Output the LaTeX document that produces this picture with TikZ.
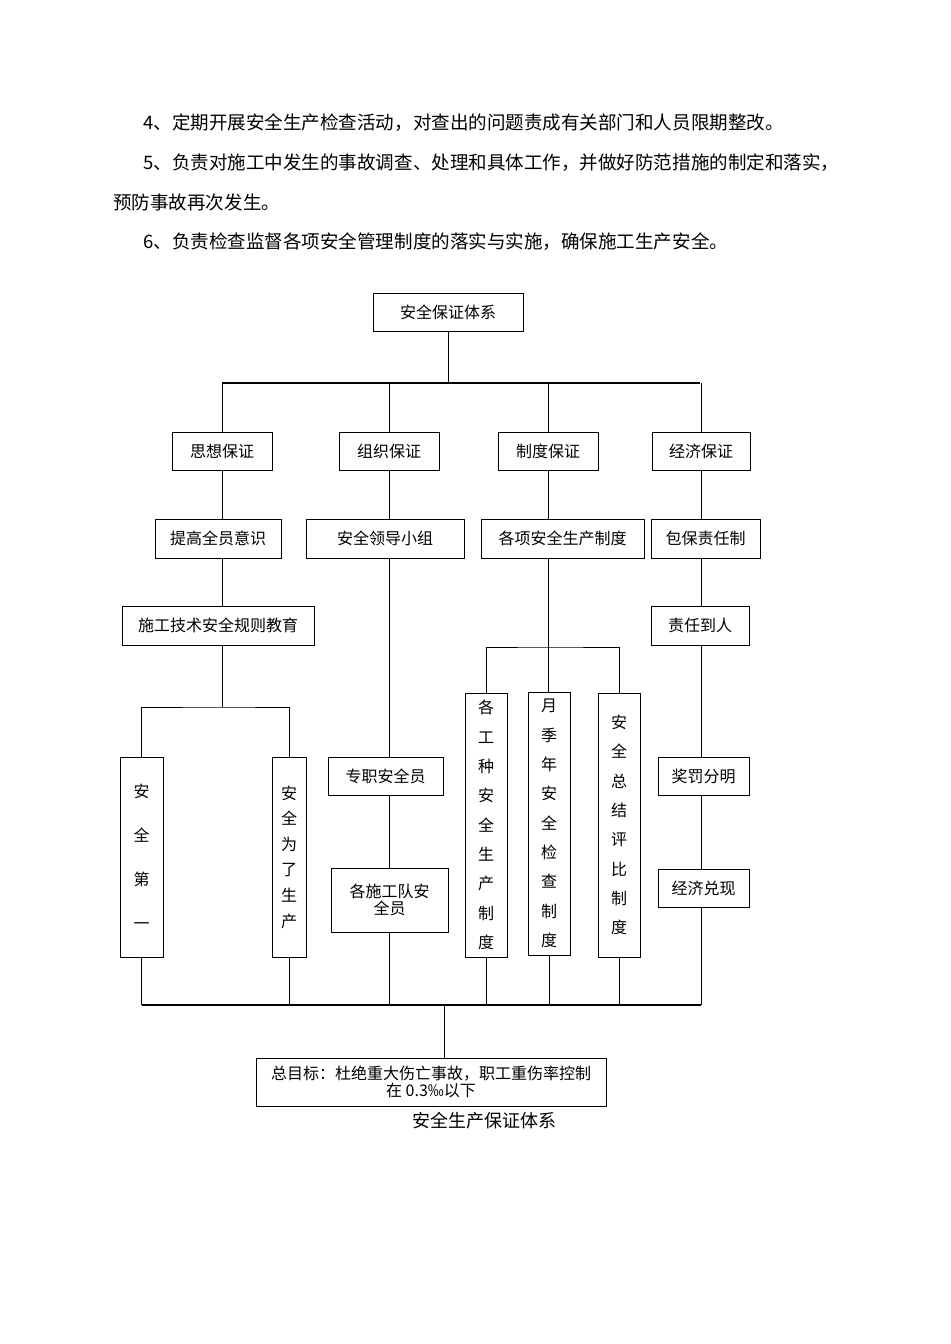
\documentclass[tikz,border=0pt]{standalone}
\usepackage{fontspec}
\setmainfont{Noto Sans CJK SC}
\usetikzlibrary{fit}
\tikzset{
  bx/.style={draw,line width=0.6pt,inner sep=0pt},
  ln/.style={line width=0.6pt},
  bar/.style={line width=1.3pt},
  para/.style={anchor=west,inner sep=0pt,font=\fontsize{13.9}{16}\selectfont},
  bt/.style={font=\fontsize{12}{13}\selectfont,align=center},
}
\newcommand\mybox[6]{\node[bx,fit={(#2,#3)(#4,#5)}] (#1) {}; \node[bt] (#1t) at (#1.center) {#6};}
\newcommand\vertbox[7]{\node[bx,fit={(#2,#3)(#4,#5)}] (#1) {}; \node[font=\fontsize{12}{#6}\selectfont,align=center] (#1t) at (#1.center) {#7};}
\begin{document}
\begin{tikzpicture}[x=0.75pt,y=-0.75pt]
\path[use as bounding box,fill=white] (0,0) rectangle (950,1344);
\node[para] (p4) at (143,123) {4、定期开展安全生产检查活动，对查出的问题责成有关部门和人员限期整改。};
\node[para] (p5) at (143,163) {5、负责对施工中发生的事故调查、处理和具体工作，并做好防范措施的制定和落实，};
\node[para] (p5b) at (113,202) {预防事故再次发生。};
\node[para] (p6) at (143,242) {6、负责检查监督各项安全管理制度的落实与实施，确保施工生产安全。};

\mybox{top}{373}{293}{523}{331}{安全保证体系}
\mybox{sx}{172}{432}{272}{470}{思想保证}
\mybox{zz}{339}{432}{439}{470}{组织保证}
\mybox{zd}{498}{432}{598}{470}{制度保证}
\mybox{jj}{652}{432}{750}{470}{经济保证}
\mybox{tg}{155}{519}{281}{558}{提高全员意识}
\mybox{ld}{306}{519}{464}{558}{安全领导小组}
\mybox{gx}{481}{519}{644}{558}{各项安全生产制度}
\mybox{bb}{651}{519}{760}{558}{包保责任制}
\mybox{sg}{122}{606}{314}{645}{施工技术安全规则教育}
\mybox{zr}{651}{606}{749}{645}{责任到人}
\vertbox{aq1}{120}{757}{163}{957}{33}{安\\全\\第\\一}
\vertbox{aq2}{272}{757}{306}{957}{19.2}{安\\全\\为\\了\\生\\产}
\mybox{zzy}{328}{757}{443}{795}{专职安全员}
\mybox{gsd}{331}{868}{448}{932}{各施工队安\\全员}
\vertbox{gz}{465}{693}{507}{957}{22}{各\\工\\种\\安\\全\\生\\产\\制\\度}
\vertbox{yj}{528}{692}{570}{955}{22}{月\\季\\年\\安\\全\\检\\查\\制\\度}
\vertbox{zj}{598}{693}{640}{957}{22}{安\\全\\总\\结\\评\\比\\制\\度}
\mybox{jf}{658}{757}{749}{795}{奖罚分明}
\mybox{dx}{658}{869}{749}{907}{经济兑现}
\mybox{goal}{256}{1058}{606}{1106}{总目标：杜绝重大伤亡事故，职工重伤率控制\\在 0.3‰以下}
\node[font=\fontsize{13.5}{15}\selectfont] (cap) at (484,1121) {安全生产保证体系};

\coordinate (b1) at (448,383);
\coordinate (b2) at (444,1005);
\draw[ln] (top.south) -- (b1);
\draw[bar] (222,383) -- (700,383);
\foreach \n in {sx,zz,zd,jj} \draw[ln] (\n.north) -- (\n.north |- b1);
\draw[ln] (sx.south) -- (sx.south |- tg.north);
\draw[ln] (zz.south) -- (zz.south |- ld.north);
\draw[ln] (zd.south) -- (zd.south |- gx.north);
\draw[ln] (jj.south) -- (jj.south |- bb.north);
\draw[ln] (sx.south |- tg.south) -- (sx.south |- sg.north);
\draw[ln] (bb.south -| jj.south) -- (zr.north -| jj.south);
\coordinate (j1) at (222,707);
\draw[ln] (sg.south -| j1) -- (j1);
\draw[ln] (aq1.north) |- (j1) -| (aq2.north);
\draw[ln] (ld.south -| zz.south) -- (zzy.north -| zz.south);
\draw[ln] (zzy.south -| zz.south) -- (gsd.north -| zz.south);
\draw[ln] (gsd.south -| zz.south) -- (zz.south |- b2);
\coordinate (j2) at (548,647);
\draw[ln] (gx.south -| j2) -- (j2);
\draw[ln] (gz.north) |- (j2) -| (zj.north);
\draw[ln] (j2) -- (j2 |- yj.north);
\draw[ln] (zr.south -| jj.south) -- (jf.north -| jj.south);
\draw[ln] (jf.south -| jj.south) -- (dx.north -| jj.south);
\draw[ln] (dx.south -| jj.south) -- (jj.south |- b2);
\foreach \n in {aq1,aq2,gz,yj,zj} \draw[ln] (\n.south) -- (\n.south |- b2);
\draw[bar] (aq1.south |- b2) -- (jj.south |- b2);
\draw[ln] (b2) -- (goal.north -| b2);
\end{tikzpicture}
\end{document}
